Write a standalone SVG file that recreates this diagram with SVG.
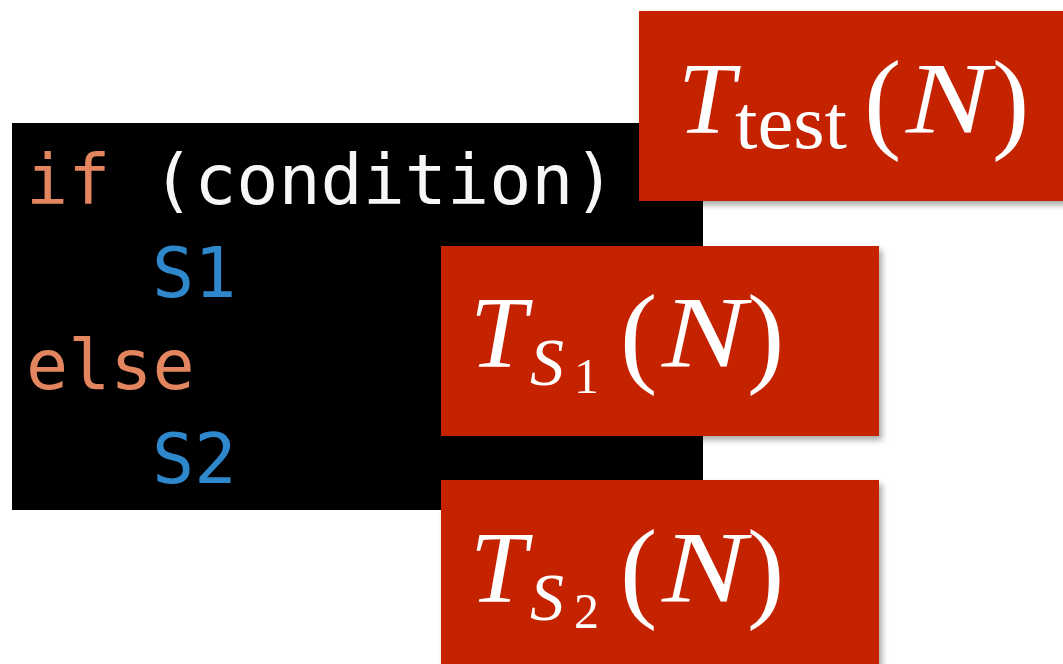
<svg xmlns="http://www.w3.org/2000/svg" width="1063" height="664" viewBox="0 0 1063 664">
<defs>
<filter id="sh" x="-5%" y="-5%" width="115%" height="120%">
<feDropShadow dx="3" dy="4" stdDeviation="3" flood-color="#000" flood-opacity="0.35"/>
</filter>
</defs>
<style>
.code{font-family:"DejaVu Sans Mono","Liberation Mono",monospace;font-size:70px}
.kw{fill:#E3855F}
.st{fill:#2F88CC}
.pl{fill:#F7F7F7}
.box{fill:#C52406;filter:url(#sh)}
.m{font-family:"Liberation Serif","Times New Roman",serif;fill:#fff}
.it{font-style:italic}
</style>
<rect width="1063" height="664" fill="#fff"/>
<g id="code">
<rect x="12" y="123" width="691" height="387" fill="#000"/>
<text class="code" x="26" y="204"><tspan class="kw">if</tspan><tspan class="pl" x="152">(condition)</tspan></text>
<text class="code st" x="152" y="297">S1</text>
<text class="code kw" x="26" y="389">else</text>
<text class="code st" x="152" y="483">S2</text>
</g>
<g id="connectors"></g>
<g id="t-test">
<rect class="box" x="639" y="11" width="430" height="190"/>
<text class="m it" x="678" y="133" font-size="102">T</text>
<text class="m" x="735" y="148" font-size="76" textLength="112" lengthAdjust="spacingAndGlyphs">test</text>
<text class="m" x="864" y="138" font-size="112">(</text>
<text class="m it" x="906" y="133" font-size="102" textLength="84" lengthAdjust="spacingAndGlyphs">N</text>
<text class="m" x="992" y="138" font-size="112">)</text>
</g>
<g id="t-s1">
<rect class="box" x="441" y="246" width="438" height="190"/>
<text class="m it" x="470" y="367" font-size="102">T</text>
<text class="m it" x="530" y="385" font-size="68">S</text>
<text class="m" x="574" y="393" font-size="50">1</text>
<text class="m" x="620" y="372" font-size="112">(</text>
<text class="m it" x="662" y="367" font-size="102" textLength="84" lengthAdjust="spacingAndGlyphs">N</text>
<text class="m" x="747" y="372" font-size="112">)</text>
</g>
<g id="t-s2">
<rect class="box" x="441" y="480" width="438" height="200"/>
<text class="m it" x="470" y="602" font-size="102">T</text>
<text class="m it" x="530" y="620" font-size="68">S</text>
<text class="m" x="574" y="628" font-size="50">2</text>
<text class="m" x="620" y="607" font-size="112">(</text>
<text class="m it" x="662" y="602" font-size="102" textLength="84" lengthAdjust="spacingAndGlyphs">N</text>
<text class="m" x="747" y="607" font-size="112">)</text>
</g>
</svg>
